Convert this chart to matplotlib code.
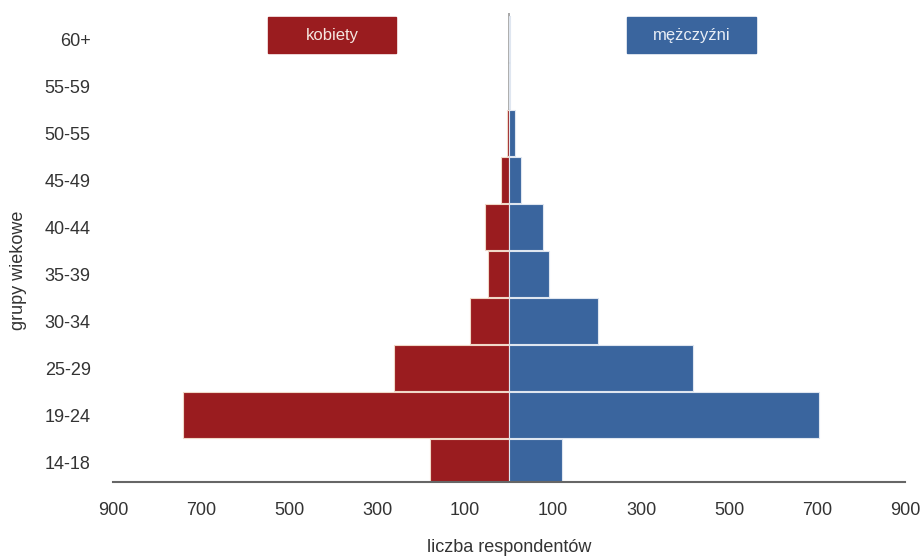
import numpy as np
import matplotlib.pyplot as plt
from matplotlib.patches import Rectangle

plt.rcParams['font.family'] = ['Liberation Sans Narrow', 'Liberation Sans', 'DejaVu Sans']

age_groups = ['14-18', '19-24', '25-29', '30-34', '35-39', '40-44', '45-49', '50-55', '55-59', '60+']
women = [181, 740, 262, 88, 49, 56, 19, 6, 1, 1]
men = [119, 703, 417, 201, 90, 76, 26, 13, 1, 1]
tick_vals = [-900, -700, -500, -300, -100, 100, 300, 500, 700, 900]
tick_labels = ['900', '700', '500', '300', '100', '100', '300', '500', '700', '900']

red = '#9a1c1f'
blue = '#3a659e'

fig = plt.figure(figsize=(9.21, 5.58), dpi=100)
ax = fig.add_axes([0.1227, 0.136, 0.8603, 0.84])

y = np.arange(len(age_groups))
ax.axvline(0, color='#9a9a9a', linewidth=1.2, zorder=1)
ax.barh(y, -np.array(women), height=0.98, color=red, edgecolor='#f0d8c8', linewidth=0.8, zorder=2)
ax.barh(y, men, height=0.98, color=blue, edgecolor='#dfe6f0', linewidth=0.8, zorder=2)

ax.set_xlim(-900, 900)
ax.set_ylim(-0.42, 9.55)
ax.set_yticks(y)
ax.set_yticklabels(age_groups)
ax.set_xticks(tick_vals)
ax.set_xticklabels(tick_labels)
ax.tick_params(axis='both', length=0, labelsize=13, colors='#333333')
ax.tick_params(axis='x', pad=14)
ax.tick_params(axis='y', pad=16)

for s in ['top', 'right', 'left']:
    ax.spines[s].set_visible(False)
ax.spines['bottom'].set_color('#666666')
ax.spines['bottom'].set_linewidth(1.5)

fig.text(0.553, 0.018, 'liczba respondentów', ha='center', va='center', fontsize=13, color='#333333')
fig.text(0.02, 0.515, 'grupy wiekowe', ha='center', va='center', rotation=90, fontsize=13, color='#333333')

# legend boxes
fig.patches.append(Rectangle((0.291, 0.905), 0.139, 0.064, transform=fig.transFigure, color=red))
fig.patches.append(Rectangle((0.681, 0.905), 0.140, 0.064, transform=fig.transFigure, color=blue))
fig.text(0.3605, 0.937, 'kobiety', ha='center', va='center', fontsize=12, color='#f5e6e0')
fig.text(0.751, 0.937, 'mężczyźni', ha='center', va='center', fontsize=12, color='#e8eef6')

plt.savefig('out.png', dpi=100)
